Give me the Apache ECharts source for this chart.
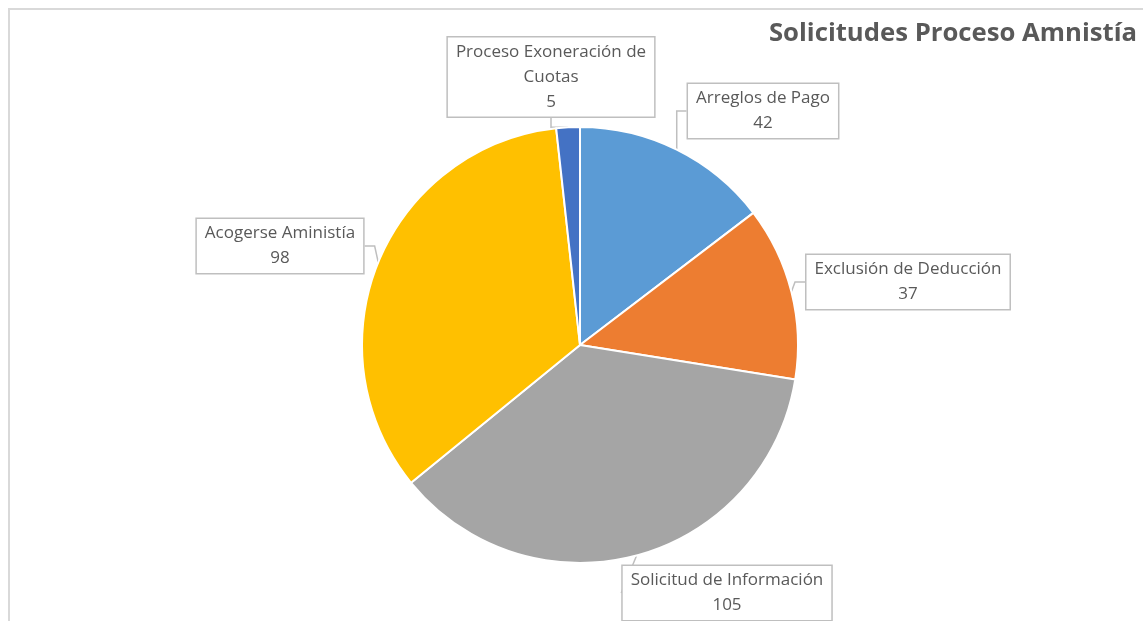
<!DOCTYPE html>
<html><head><meta charset="utf-8">
<script src="https://cdn.jsdelivr.net/npm/echarts@6/dist/echarts.min.js"></script>
<style>html,body{margin:0;padding:0;background:#fff;}#c{width:1143px;height:621px;}
#frame{position:absolute;left:8px;top:8px;width:1200px;height:700px;border-left:2px solid #d9d9d9;border-top:2px solid #d9d9d9;pointer-events:none;}</style>
</head><body><div id="c"></div><div id="frame"></div>
<script>
const titleText = 'Solicitudes Proceso Amnistía';
const categories = ['Arreglos de Pago', 'Exclusión de Deducción', 'Solicitud de Información', 'Acogerse Aministía', 'Proceso Exoneración de Cuotas'];
const values = [42, 37, 105, 98, 5];
const colors = ['#5B9BD5', '#ED7D31', '#A5A5A5', '#FFC000', '#4472C4'];
const labelPos = [[763, 111], [908, 282], [727, 593], [280, 246], [551, 77]];

const chart = echarts.init(document.getElementById('c'));
chart.setOption({
  animation: false,
  title: { text: titleText, right: 1, top: 16, textStyle: { fontFamily: 'Open Sans', fontWeight: 'bold', fontSize: 25.7, color: '#595959' } },
  series: [{
    type: 'pie',
    center: [580, 345],
    radius: 218,
    startAngle: 90,
    clockwise: true,
    data: categories.map((n, i) => ({ name: n, value: values[i], itemStyle: { color: colors[i] },
      label: i === 4 ? { formatter: 'Proceso Exoneración de\nCuotas\n{c}' } : {} })),
    itemStyle: { borderColor: '#fff', borderWidth: 2 },
    label: {
      show: true, position: 'outside', formatter: '{b}\n{c}',
      fontFamily: 'Open Sans', fontSize: 17, color: '#595959', lineHeight: 25, align: 'center',
      backgroundColor: '#fff', borderColor: '#bfbfbf', borderWidth: 1.5, padding: [3, 8, 1, 8]
    },
    labelLine: { show: true, length: 20, length2: 10, lineStyle: { color: '#bfbfbf', width: 1.5 } },
    labelLayout: function (p) {
      const pos = labelPos[p.dataIndex];
      return { x: pos[0], y: pos[1], align: 'center', verticalAlign: 'middle' };
    }
  }]
});
</script></body></html>
